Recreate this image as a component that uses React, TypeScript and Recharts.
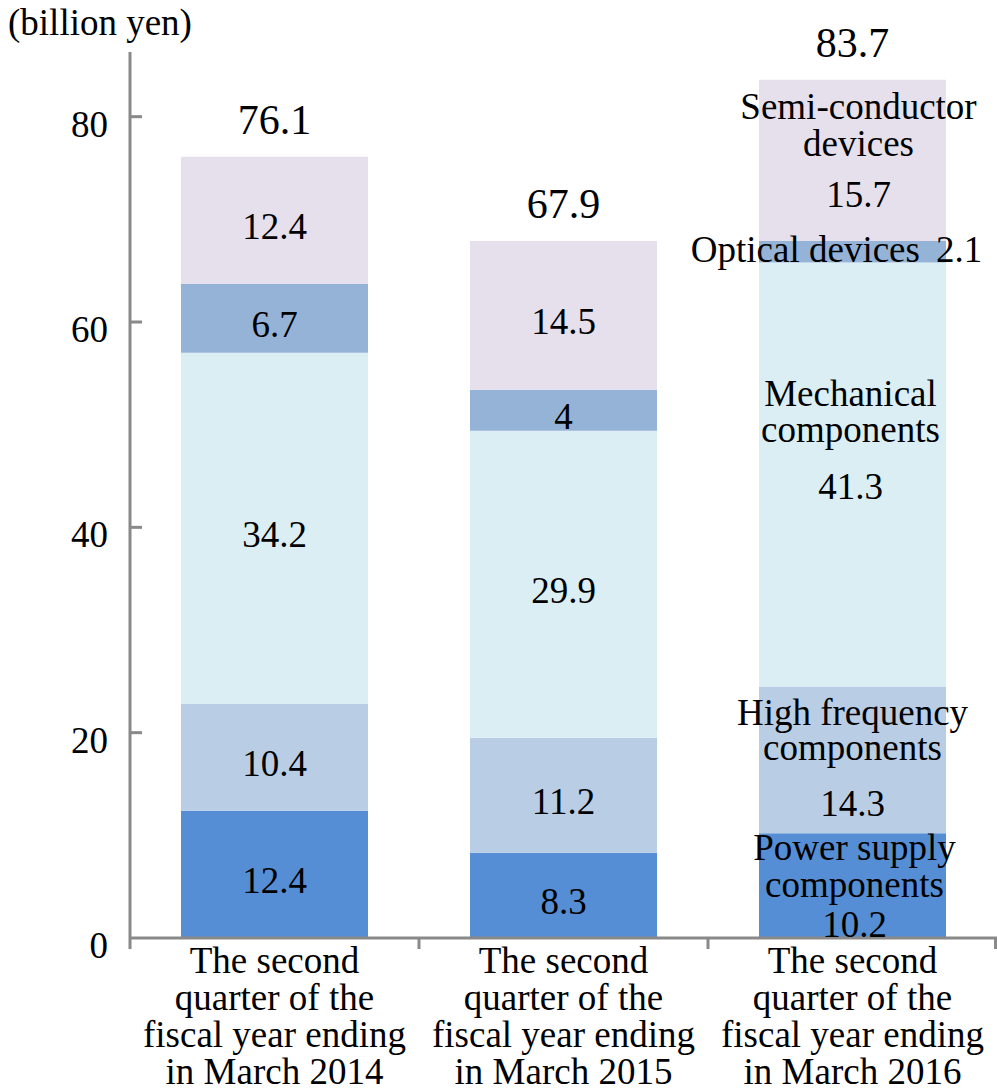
import React from 'react';
import { BarChart, Bar, XAxis, YAxis, LabelList, Label } from 'recharts';

// Periods (x-axis categories), split into the lines they are printed on
const periodLines: string[][] = [
  ['The second', 'quarter of the', 'fiscal year ending', 'in March 2014'],
  ['The second', 'quarter of the', 'fiscal year ending', 'in March 2015'],
  ['The second', 'quarter of the', 'fiscal year ending', 'in March 2016'],
];

// Net sales by product segment (billion yen)
const powerSupply = [12.4, 8.3, 10.2];
const highFrequency = [10.4, 11.2, 14.3];
const mechanical = [34.2, 29.9, 41.3];
const optical = [6.7, 4, 2.1];
const semiconductor = [12.4, 14.5, 15.7];
const totals = [76.1, 67.9, 83.7];

const yTicks = [0, 20, 40, 60, 80];
const unitLabel = '(billion yen)';

const segmentNames: Record<string, string[]> = {
  power: ['Power supply', 'components'],
  high: ['High frequency', 'components'],
  mech: ['Mechanical', 'components'],
  optical: ['Optical devices'],
  semi: ['Semi-conductor', 'devices'],
};

const data = periodLines.map((lines, i) => ({
  period: lines.join(' '),
  power: powerSupply[i],
  high: highFrequency[i],
  mech: mechanical[i],
  optical: optical[i],
  semi: semiconductor[i],
  total: totals[i],
}));

const series = [
  { key: 'power', color: '#558ED5' },
  { key: 'high', color: '#B9CDE5' },
  { key: 'mech', color: '#DBEEF4' },
  { key: 'optical', color: '#95B3D7' },
  { key: 'semi', color: '#E6E0EC' },
];

const FONT = "'Liberation Serif', 'Times New Roman', serif";
const AXIS = '#898989';
const W = 997;
const H = 1089;
const M = { top: 52, right: 0, bottom: 0, left: 0 };
const Y_AXIS_W = 130;
const X_AXIS_H = H - 938 - M.top + 52 - 52; // space under the plot
const PLOT_LEFT = Y_AXIS_W;
const PLOT_BOTTOM = 938;
const BAND = (W - PLOT_LEFT) / periodLines.length;
const LABEL_SIZE = 37;

// Baseline offsets (relative to segment centre) for the annotated last column
const lastColumnLayout: Record<string, { names: number[]; value: number; dx: number }> = {
  power: { names: [-26, 11], value: 51, dx: 2 },
  high: { names: [-35, 0], value: 56, dx: 0 },
  mech: { names: [-68, -32], value: 25, dx: -2 },
  optical: { names: [10], value: 10, dx: -16 },
  semi: { names: [-41, -4], value: 47, dx: 6 },
};

const makeSegmentLabel = (key: string) => (props: any) => {
  const { x, y, width, height, value, index } = props;
  const cx = x + width / 2;
  const cy = y + height / 2;
  if (index === periodLines.length - 1) {
    const lay = lastColumnLayout[key];
    const names = segmentNames[key];
    if (key === 'optical') {
      return (
        <text x={cx + lay.dx} y={cy + lay.value} textAnchor="middle" fontFamily={FONT} fontSize={LABEL_SIZE} fill="#000">
          {names[0]}
          <tspan dx={16}>{value}</tspan>
        </text>
      );
    }
    return (
      <g>
        {names.map((n, i) => (
          <text key={n} x={cx + lay.dx} y={cy + lay.names[i]} textAnchor="middle" fontFamily={FONT} fontSize={LABEL_SIZE} fill="#000">
            {n}
          </text>
        ))}
        <text x={cx + lay.dx} y={cy + lay.value} textAnchor="middle" fontFamily={FONT} fontSize={LABEL_SIZE} fill="#000">
          {value}
        </text>
      </g>
    );
  }
  return (
    <text x={cx} y={cy + 19} textAnchor="middle" fontFamily={FONT} fontSize={LABEL_SIZE} fill="#000">
      {value}
    </text>
  );
};

const TotalLabel = (props: any) => {
  const { x, y, width, index } = props;
  return (
    <text x={x + width / 2} y={y - 23} textAnchor="middle" fontFamily={FONT} fontSize={42} fill="#000">
      {totals[index]}
    </text>
  );
};

const YTick = (props: any) => {
  const { y, payload } = props;
  return (
    <g>
      {payload.value !== 0 && (
        <line x1={PLOT_LEFT} x2={PLOT_LEFT + 12} y1={y} y2={y} stroke={AXIS} strokeWidth={3} />
      )}
      <text x={108} y={y + 20} textAnchor="end" fontFamily={FONT} fontSize={LABEL_SIZE} fill="#000">
        {payload.value}
      </text>
    </g>
  );
};

const XTick = (props: any) => {
  const { x, index } = props;
  const lines = periodLines[index] || [];
  const left = x - BAND / 2;
  const right = x + BAND / 2;
  return (
    <g>
      <line x1={left} x2={left} y1={PLOT_BOTTOM} y2={PLOT_BOTTOM + 11} stroke={AXIS} strokeWidth={3} />
      {index === periodLines.length - 1 && (
        <line x1={right - 1.5} x2={right - 1.5} y1={PLOT_BOTTOM} y2={PLOT_BOTTOM + 11} stroke={AXIS} strokeWidth={3} />
      )}
      {lines.map((l, i) => (
        <text key={i} x={x} y={PLOT_BOTTOM + 35 + i * 37} textAnchor="middle" fontFamily={FONT} fontSize={LABEL_SIZE} fill="#000">
          {l}
        </text>
      ))}
    </g>
  );
};

export default function App() {
  return (
    <div style={{ position: 'absolute', left: 0, top: 0, width: W, height: H, background: '#fff' }}>
      <BarChart width={W} height={H} data={data} margin={M}>
        <XAxis
          dataKey="period"
          height={H - PLOT_BOTTOM}
          axisLine={{ stroke: AXIS, strokeWidth: 3 }}
          tickLine={false}
          tick={<XTick />}
          interval={0}
        />
        <YAxis
          width={Y_AXIS_W}
          domain={[0, 86.3]}
          ticks={yTicks}
          allowDataOverflow
          axisLine={{ stroke: AXIS, strokeWidth: 3 }}
          tickLine={false}
          tick={<YTick />}
        >
          <Label
            content={() => (
              <text x={8} y={35} fontFamily={FONT} fontSize={LABEL_SIZE} fill="#000">
                {unitLabel}
              </text>
            )}
          />
        </YAxis>
        {series.map((s) => (
          <Bar key={s.key} dataKey={s.key} stackId="sales" fill={s.color} barSize={187} isAnimationActive={false}>
            <LabelList dataKey={s.key} content={makeSegmentLabel(s.key)} />
            {s.key === 'semi' && <LabelList dataKey="total" content={<TotalLabel />} />}
          </Bar>
        ))}
      </BarChart>
    </div>
  );
}
